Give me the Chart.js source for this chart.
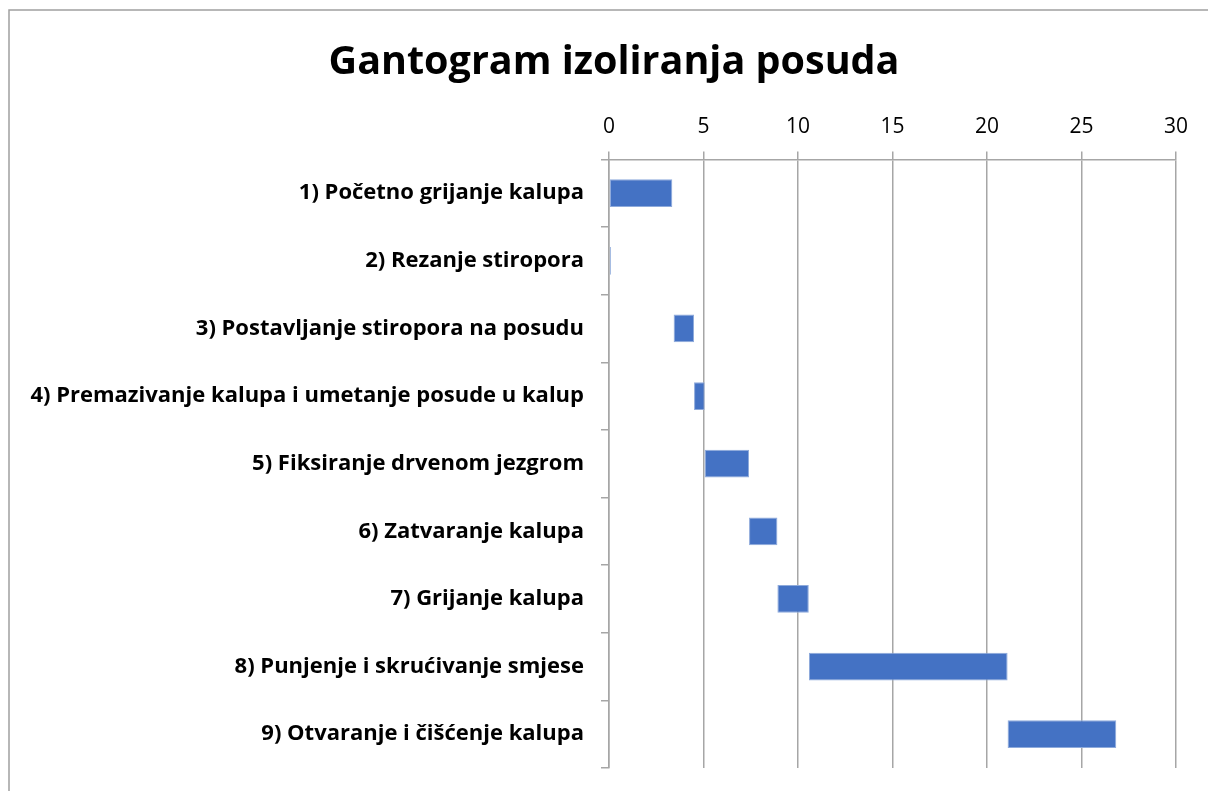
<!DOCTYPE html>
<html>

<head>
  <meta charset="utf-8">
  <title>Gantogram izoliranja posuda</title>
  <script src="https://cdn.jsdelivr.net/npm/chart.js"></script>
  <style>
    html, body { margin: 0; padding: 0; background: #fff; }
  </style>
</head>

<body>
  <canvas id="myChart" width="1208" height="791"></canvas>
  <script>
    // Tasks and their start / end times
    var tasks = [
      '1) Početno grijanje kalupa',
      '2) Rezanje stiropora',
      '3) Postavljanje stiropora na posudu',
      '4) Premazivanje kalupa i umetanje posude u kalup',
      '5) Fiksiranje drvenom jezgrom',
      '6) Zatvaranje kalupa',
      '7) Grijanje kalupa',
      '8) Punjenje i skrućivanje smjese',
      '9) Otvaranje i čišćenje kalupa'
    ];
    var starts = [0, 0, 3.42, 4.5, 5.06, 7.41, 8.91, 10.58, 21.09];
    var ends = [3.35, 0.1, 4.5, 5.06, 7.41, 8.91, 10.57, 21.09, 26.84];
    var xTicks = [0, 5, 10, 15, 20, 25, 30];

    var gridGrey = '#a6a6a6';

    // border of the chart object (left and top edges visible)
    var frame = {
      id: 'frame',
      beforeDraw: function (chart) {
        var c = chart.ctx;
        c.save();
        c.strokeStyle = '#a0a0a0';
        c.lineWidth = 1.5;
        c.beginPath();
        c.moveTo(9, 791);
        c.lineTo(9, 10);
        c.lineTo(1208, 10);
        c.stroke();
        c.restore();
      }
    };

    var ctx = document.getElementById('myChart').getContext('2d');
    var chart = new Chart(ctx, {
      type: 'bar',
      data: {
        labels: tasks,
        datasets: [{
          data: starts.map(function (s, i) { return [s, ends[i]]; }),
          backgroundColor: '#4472c4',
          borderColor: '#8eaadb',
          borderWidth: 1,
          borderSkipped: false,
          categoryPercentage: 1,
          barPercentage: 0.41
        }]
      },
      options: {
        responsive: false,
        animation: false,
        indexAxis: 'y',
        layout: { padding: { left: 52, right: 32, top: 0, bottom: 23 } },
        plugins: {
          legend: { display: false },
          tooltip: { enabled: false },
          title: {
            display: true,
            text: 'Gantogram izoliranja posuda',
            color: '#000',
            font: { family: 'Open Sans', size: 39.5, weight: 'bold', lineHeight: 1.2 },
            padding: { top: 39, bottom: 10 }
          }
        },
        scales: {
          x: {
            position: 'top',
            min: 0,
            max: 30,
            afterBuildTicks: function (scale) {
              scale.ticks = xTicks.map(function (v) { return { value: v }; });
            },
            afterFit: function (scale) { scale.height = 63; },
            grid: { color: gridGrey, lineWidth: 1.5, tickLength: 8 },
            border: { color: gridGrey, width: 1.5 },
            ticks: {
              color: '#000',
              padding: 12,
              font: { family: 'Open Sans', size: 21 }
            }
          },
          y: {
            afterFit: function (scale) {
              scale.width = 557;
              scale.paddingTop = 0;
              scale.paddingBottom = 0;
              // the longest label runs past the left edge of the axis box
              scale._computeLabelArea = function () { return undefined; };
            },
            grid: { drawOnChartArea: false, color: gridGrey, lineWidth: 1.5, tickLength: 8 },
            border: { color: gridGrey, width: 1.5 },
            ticks: {
              color: '#000',
              padding: 17,
              font: { family: 'Open Sans', size: 22, weight: 'bold' }
            }
          }
        }
      },
      plugins: [frame]
    });
  </script>
</body>

</html>
